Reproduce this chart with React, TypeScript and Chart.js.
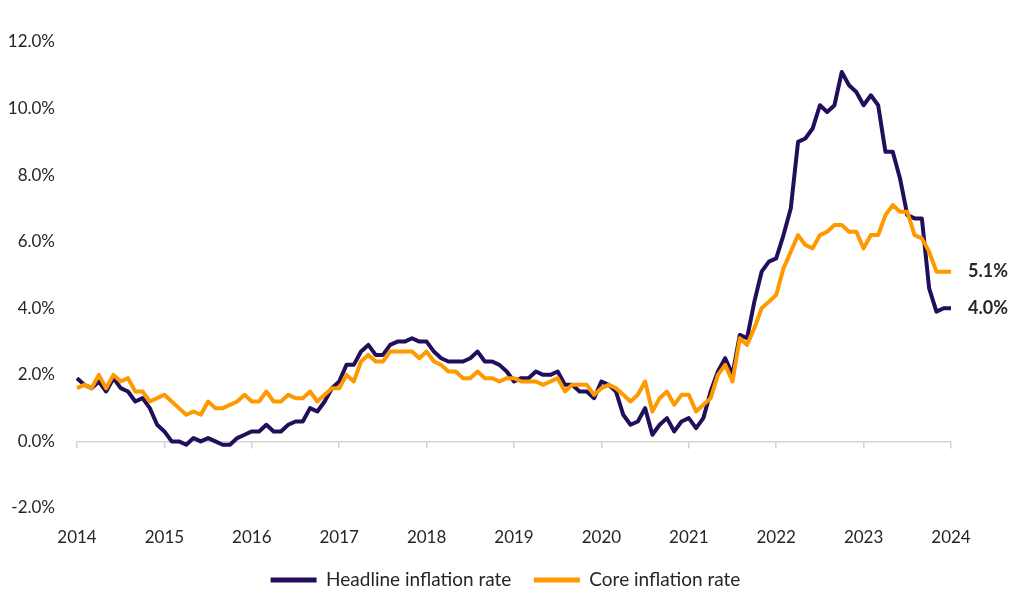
import React, { useEffect, useRef } from 'react';
import { Chart, registerables } from 'chart.js';

Chart.register(...registerables);

const years = [2014, 2015, 2016, 2017, 2018, 2019, 2020, 2021, 2022, 2023];
const monthNames = ['Jan', 'Feb', 'Mar', 'Apr', 'May', 'Jun', 'Jul', 'Aug', 'Sep', 'Oct', 'Nov', 'Dec'];
const categories: string[] = [];
years.forEach((y) => monthNames.forEach((m) => categories.push(m + ' ' + y)));
categories.push('Jan 2024');

const headline = [
  1.9, 1.7, 1.6, 1.8, 1.5, 1.9, 1.6, 1.5, 1.2, 1.3, 1.0, 0.5,
  0.3, 0.0, 0.0, -0.1, 0.1, 0.0, 0.1, 0.0, -0.1, -0.1, 0.1, 0.2,
  0.3, 0.3, 0.5, 0.3, 0.3, 0.5, 0.6, 0.6, 1.0, 0.9, 1.2, 1.6,
  1.8, 2.3, 2.3, 2.7, 2.9, 2.6, 2.6, 2.9, 3.0, 3.0, 3.1, 3.0,
  3.0, 2.7, 2.5, 2.4, 2.4, 2.4, 2.5, 2.7, 2.4, 2.4, 2.3, 2.1,
  1.8, 1.9, 1.9, 2.1, 2.0, 2.0, 2.1, 1.7, 1.7, 1.5, 1.5, 1.3,
  1.8, 1.7, 1.5, 0.8, 0.5, 0.6, 1.0, 0.2, 0.5, 0.7, 0.3, 0.6,
  0.7, 0.4, 0.7, 1.5, 2.1, 2.5, 2.0, 3.2, 3.1, 4.2, 5.1, 5.4,
  5.5, 6.2, 7.0, 9.0, 9.1, 9.4, 10.1, 9.9, 10.1, 11.1, 10.7, 10.5,
  10.1, 10.4, 10.1, 8.7, 8.7, 7.9, 6.8, 6.7, 6.7, 4.6, 3.9, 4.0,
  4.0,
];

const core = [
  1.6, 1.7, 1.6, 2.0, 1.6, 2.0, 1.8, 1.9, 1.5, 1.5, 1.2, 1.3,
  1.4, 1.2, 1.0, 0.8, 0.9, 0.8, 1.2, 1.0, 1.0, 1.1, 1.2, 1.4,
  1.2, 1.2, 1.5, 1.2, 1.2, 1.4, 1.3, 1.3, 1.5, 1.2, 1.4, 1.6,
  1.6, 2.0, 1.8, 2.4, 2.6, 2.4, 2.4, 2.7, 2.7, 2.7, 2.7, 2.5,
  2.7, 2.4, 2.3, 2.1, 2.1, 1.9, 1.9, 2.1, 1.9, 1.9, 1.8, 1.9,
  1.9, 1.8, 1.8, 1.8, 1.7, 1.8, 1.9, 1.5, 1.7, 1.7, 1.7, 1.4,
  1.6, 1.7, 1.6, 1.4, 1.2, 1.4, 1.8, 0.9, 1.3, 1.5, 1.1, 1.4,
  1.4, 0.9, 1.1, 1.3, 2.0, 2.3, 1.8, 3.1, 2.9, 3.4, 4.0, 4.2,
  4.4, 5.2, 5.7, 6.2, 5.9, 5.8, 6.2, 6.3, 6.5, 6.5, 6.3, 6.3,
  5.8, 6.2, 6.2, 6.8, 7.1, 6.9, 6.9, 6.2, 6.1, 5.7, 5.1, 5.1,
  5.1,
];

const seriesNames = ['Headline inflation rate', 'Core inflation rate'];
const seriesColors = ['#220E5B', '#FF9900'];
const yMin = -2;
const yMax = 12;
const yStep = 2;

const FONT = 'Lato, "Open Sans", sans-serif';
const TEXT = '#262626';

const endLabels = {
  id: 'endLabels',
  afterDatasetsDraw(chart: any) {
    const ctx = chart.ctx;
    chart.data.datasets.forEach((ds: any, i: number) => {
      const meta = chart.getDatasetMeta(i);
      const pt = meta.data[meta.data.length - 1];
      const v = ds.data[ds.data.length - 1];
      ctx.save();
      ctx.font = 'bold 18px ' + FONT;
      ctx.fillStyle = TEXT;
      ctx.textBaseline = 'middle';
      ctx.textAlign = 'left';
      ctx.fillText(v.toFixed(1) + '%', pt.x + 17, pt.y);
      ctx.restore();
    });
  },
};

export default function App() {
  const ref = useRef<HTMLCanvasElement>(null);
  useEffect(() => {
    if (!ref.current) return;
    const chart = new Chart(ref.current, {
      type: 'line',
      data: {
        labels: categories,
        datasets: [
          {
            label: seriesNames[0],
            data: headline,
            borderColor: seriesColors[0],
            backgroundColor: seriesColors[0],
            borderWidth: 4,
            pointRadius: 0,
            borderJoinStyle: 'round',
            order: 1,
          },
          {
            label: seriesNames[1],
            data: core,
            borderColor: seriesColors[1],
            backgroundColor: seriesColors[1],
            borderWidth: 4,
            pointRadius: 0,
            borderJoinStyle: 'round',
            order: 0,
          },
        ],
      },
      options: {
        animation: false,
        responsive: true,
        maintainAspectRatio: false,
        layout: { padding: { top: 42, right: 13, left: 0, bottom: 5.5 } },
        plugins: {
          tooltip: { enabled: false },
          legend: {
            position: 'bottom',
            labels: {
              boxWidth: 46,
              boxHeight: 5,
              padding: 22.5,
              color: TEXT,
              font: { family: FONT, size: 19 },
              generateLabels: (c: any) =>
                c.data.datasets.map((ds: any, i: number) => ({
                  text: ds.label,
                  fillStyle: ds.borderColor,
                  strokeStyle: ds.borderColor,
                  lineWidth: 0,
                  hidden: false,
                  datasetIndex: i,
                  fontColor: TEXT,
                })),
            },
          },
        },
        scales: {
          x: {
            type: 'category',
            grid: { display: false, drawTicks: false },
            border: { display: false },
            ticks: {
              autoSkip: false,
              maxRotation: 0,
              padding: 19,
              color: TEXT,
              font: { family: FONT, size: 17 },
              callback: (_v: any, i: number) => (i % 12 === 0 ? categories[i].slice(-4) : ''),
            },
            afterFit: (s: any) => {
              s.height = 40;
            },
          },
          x2: {
            type: 'category',
            axis: 'x',
            position: { y: 0 },
            grid: {
              drawOnChartArea: false,
              drawTicks: true,
              tickLength: 6,
              lineWidth: 1.5,
              color: (c: any) => (c.index % 12 === 0 ? '#d4d4d4' : 'rgba(0,0,0,0)'),
            },
            border: { display: true, color: '#d4d4d4', width: 1.5 },
            ticks: { display: false },
          },
          y: {
            min: yMin,
            max: yMax,
            grid: { display: false, drawTicks: false },
            border: { display: false },
            ticks: {
              stepSize: yStep,
              padding: 22,
              color: TEXT,
              font: { family: FONT, size: 17 },
              callback: (v: any) => Number(v).toFixed(1) + '%',
            },
            afterFit: (s: any) => {
              s.width = 77;
            },
          },
          yRight: {
            position: 'right',
            grid: { display: false, drawTicks: false },
            border: { display: false },
            ticks: { display: false },
            afterFit: (s: any) => {
              s.width = 60;
            },
          },
        },
      } as any,
      plugins: [endLabels],
    });
    return () => chart.destroy();
  }, []);
  return (
    <div style={{ position: 'absolute', left: 0, top: 0, width: 1024, height: 605, background: '#fff' }}>
      <canvas ref={ref} />
    </div>
  );
}
